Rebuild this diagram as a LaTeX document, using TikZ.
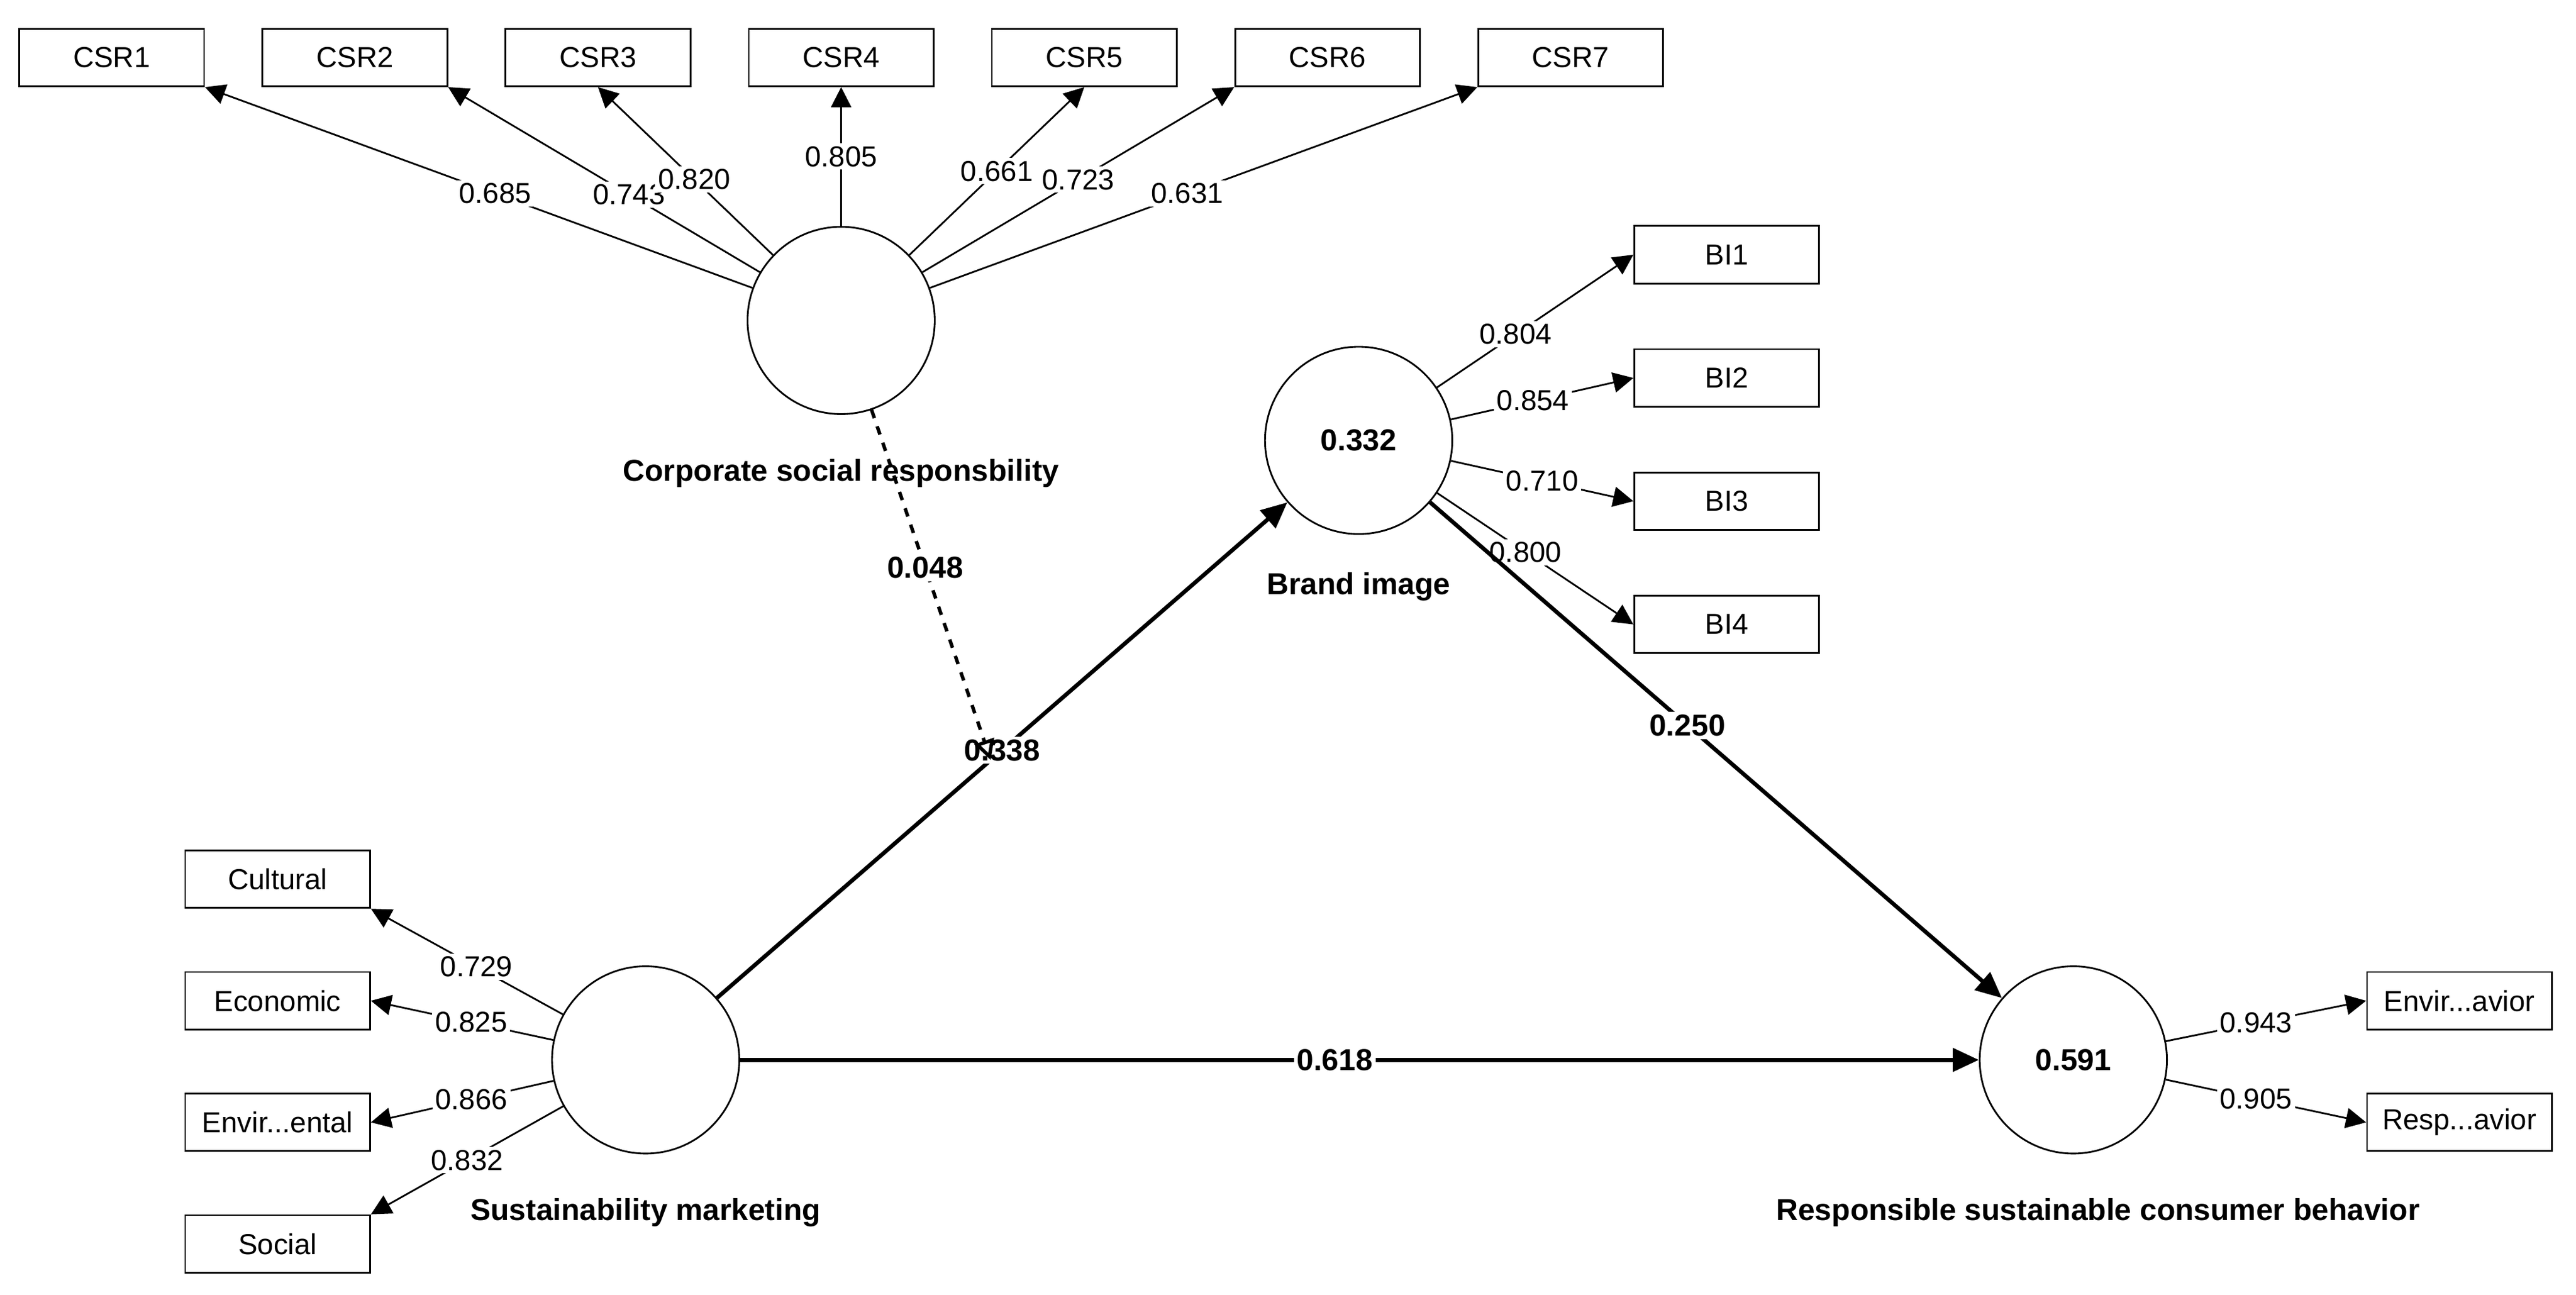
\documentclass[tikz,border=0pt]{standalone}
\usepackage{fontspec}
\setmainfont{Liberation Sans}
\usetikzlibrary{arrows.meta}
\begin{document}
\begin{tikzpicture}[x=0.02cm,y=-0.02cm,
  box/.style={draw,line width=0.6pt,minimum width=2.25cm,minimum height=0.7cm,inner sep=0pt,font=\fontsize{10}{12}\selectfont},
  lv/.style={draw,circle,line width=0.6pt,minimum size=2.28cm,inner sep=0pt,font=\bfseries\fontsize{10.5}{12}\selectfont},
  lbl/.style={font=\bfseries\fontsize{10.5}{12}\selectfont},
  ld/.style={line width=0.6pt,-{Triangle[length=7pt,width=7pt]}},
  lw/.style={fill=white,inner sep=1pt,font=\fontsize{10}{12}\selectfont},
  pth/.style={line width=1.4pt,-{Triangle[length=9pt,width=8pt]}},
  pw/.style={fill=white,inner sep=1pt,font=\bfseries\fontsize{10.5}{12}\selectfont}]
\useasboundingbox (0,0) rectangle (1568,788);
% indicators
\node[box] (c1) at (68,35) {CSR1};
\node[box] (c2) at (216,35) {CSR2};
\node[box] (c3) at (364,35) {CSR3};
\node[box] (c4) at (512,35) {CSR4};
\node[box] (c5) at (660,35) {CSR5};
\node[box] (c6) at (808,35) {CSR6};
\node[box] (c7) at (956,35) {CSR7};
\node[box] (b1) at (1051,155) {BI1};
\node[box] (b2) at (1051,230) {BI2};
\node[box] (b3) at (1051,305) {BI3};
\node[box] (b4) at (1051,380) {BI4};
\node[box] (s1) at (169,535) {Cultural};
\node[box] (s2) at (169,609) {Economic};
\node[box] (s3) at (169,683) {Envir...ental};
\node[box] (s4) at (169,757) {Social};
\node[box] (r1) at (1497,609) {Envir...avior};
\node[box] (r2) at (1497,683) {Resp...avior};
% latent variables
\node[lv] (csr) at (512,195) {};
\node[lv] (bi) at (827,268) {0.332};
\node[lv] (sm) at (393,645) {};
\node[lv] (rs) at (1262,645) {0.591};
\node[lbl] at (512,288) {Corporate social responsbility};
\node[lbl] at (827,357) {Brand image};
\node[lbl] at (393,738) {Sustainability marketing};
\node[lbl] at (1277,738) {Responsible sustainable consumer behavior};
% loadings
\draw[ld] (csr) -- (c1.south east) node[lw,pos=0.47] {0.685};
\draw[ld] (csr) -- (c2.south east) node[lw,pos=0.42] {0.743};
\draw[ld] (csr) -- (c3.south) node[lw,pos=0.45] {0.820};
\draw[ld] (csr) -- (c4.south) node[lw,pos=0.5] {0.805};
\draw[ld] (csr) -- (c5.south) node[lw,pos=0.5] {0.661};
\draw[ld] (csr) -- (c6.south west) node[lw,pos=0.5] {0.723};
\draw[ld] (csr) -- (c7.south west) node[lw,pos=0.47] {0.631};
\draw[ld] (bi) -- (b1.west) node[lw,pos=0.4] {0.804};
\draw[ld] (bi) -- (b2.west) node[lw,pos=0.45] {0.854};
\draw[ld] (bi) -- (b3.west) node[lw,pos=0.5] {0.710};
\draw[ld] (bi) -- (b4.west) node[lw,pos=0.45] {0.800};
\draw[ld] (sm) -- (s1.south east) node[lw,pos=0.45] {0.729};
\draw[ld] (sm) -- (s2.east) node[lw,pos=0.45] {0.825};
\draw[ld] (sm) -- (s3.east) node[lw,pos=0.45] {0.866};
\draw[ld] (sm) -- (s4.north east) node[lw,pos=0.5] {0.832};
\draw[ld] (rs) -- (r1.west) node[lw,pos=0.45] {0.943};
\draw[ld] (rs) -- (r2.west) node[lw,pos=0.45] {0.905};
% structural paths
\draw[pth] (sm) -- (bi) coordinate[pos=0.48] (mod) node[pw,pos=0.5] {0.338};
\draw[pth] (bi) -- (rs) node[pw,pos=0.45] {0.250};
\draw[pth] (sm) -- (rs) node[pw,pos=0.48] {0.618};
\draw[line width=1.2pt,dashed,-{Triangle[open,length=7pt,width=7pt]}] (csr) -- (mod) node[pw,pos=0.45] {0.048};
\end{tikzpicture}
\end{document}
